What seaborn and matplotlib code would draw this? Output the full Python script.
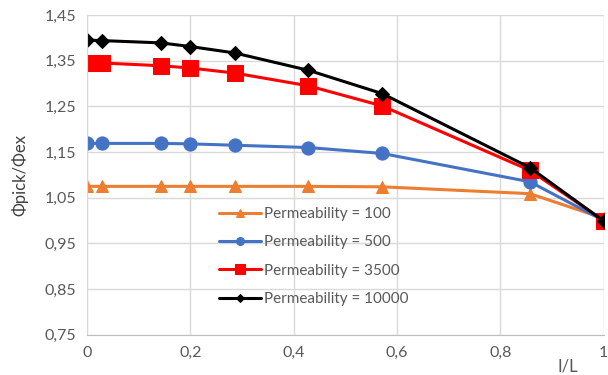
import matplotlib
matplotlib.use("Agg")
import matplotlib.pyplot as plt
import seaborn as sns
import pandas as pd
from matplotlib.ticker import FuncFormatter

x_ratio = [0, 0.0286, 0.1429, 0.2, 0.2857, 0.4286, 0.5714, 0.8571, 1.0]
perm_100 = [1.075, 1.075, 1.075, 1.075, 1.075, 1.075, 1.074, 1.059, 1.005]
perm_500 = [1.169, 1.169, 1.169, 1.168, 1.165, 1.160, 1.147, 1.085, 1.0]
perm_3500 = [1.345, 1.345, 1.339, 1.334, 1.323, 1.295, 1.251, 1.110, 1.0]
perm_10000 = [1.395, 1.394, 1.389, 1.381, 1.367, 1.329, 1.278, 1.116, 0.999]

series_names = ["Permeability = 100", "Permeability = 500",
                "Permeability = 3500", "Permeability = 10000"]
series_vals = [perm_100, perm_500, perm_3500, perm_10000]
colors = ["#ED7D31", "#4472C4", "#FF0000", "#000000"]
markers = ["^", "o", "s", "D"]
msizes = [9, 9.5, 12, 7]

sns.set_style("white")
plt.rcParams['font.family'] = ['Lato', 'DejaVu Sans']

rows = []
for name, vals in zip(series_names, series_vals):
    for xv, yv in zip(x_ratio, vals):
        rows.append({"x": xv, "y": yv, "series": name})
df = pd.DataFrame(rows)

fig = plt.figure(figsize=(6.08, 3.75), dpi=100)
ax = fig.add_axes([0.143, 0.107, 0.85, 0.853])

for name, c, m, ms in zip(series_names, colors, markers, msizes):
    sub = df[df["series"] == name]
    sns.lineplot(data=sub, x="x", y="y", ax=ax, color=c, marker=m,
                 markersize=ms, markeredgecolor=c, linewidth=2.2,
                 label=name, sort=False)

ax.set_xlim(0, 1)
ax.set_ylim(0.75, 1.45)
ax.set_xticks([0, 0.2, 0.4, 0.6, 0.8, 1.0])
ax.set_yticks([0.75, 0.85, 0.95, 1.05, 1.15, 1.25, 1.35, 1.45])
fmt = lambda v, p: ("%g" % round(v, 2)).replace(".", ",")
ax.xaxis.set_major_formatter(FuncFormatter(fmt))
ax.yaxis.set_major_formatter(FuncFormatter(lambda v, p: ("%.2f" % v).replace(".", ",")))
ax.grid(True, color="#d9d9d9", linewidth=1)
ax.set_axisbelow(True)
for s in ["top", "right"]:
    ax.spines[s].set_visible(False)
ax.spines["left"].set_color("#d9d9d9")
ax.spines["bottom"].set_color("#bfbfbf")
ax.tick_params(axis="both", length=0, labelsize=11.5, labelcolor="#595959", pad=8)

ax.set_xlabel("")
ax.set_ylabel("Φpick/Φex", fontsize=12, color="#404040", labelpad=11)
fig.text(568 / 608, 1 - 367 / 375, "I/L", fontsize=12, color="#595959",
         ha="center", va="center")

leg = ax.legend(loc="upper left", bbox_to_anchor=(0.228, 0.442), frameon=False,
                fontsize=11, labelcolor="#595959", handlelength=2.8,
                handletextpad=0.2, labelspacing=0.93, markerscale=0.6)

fig.savefig("out.png", dpi=100)
